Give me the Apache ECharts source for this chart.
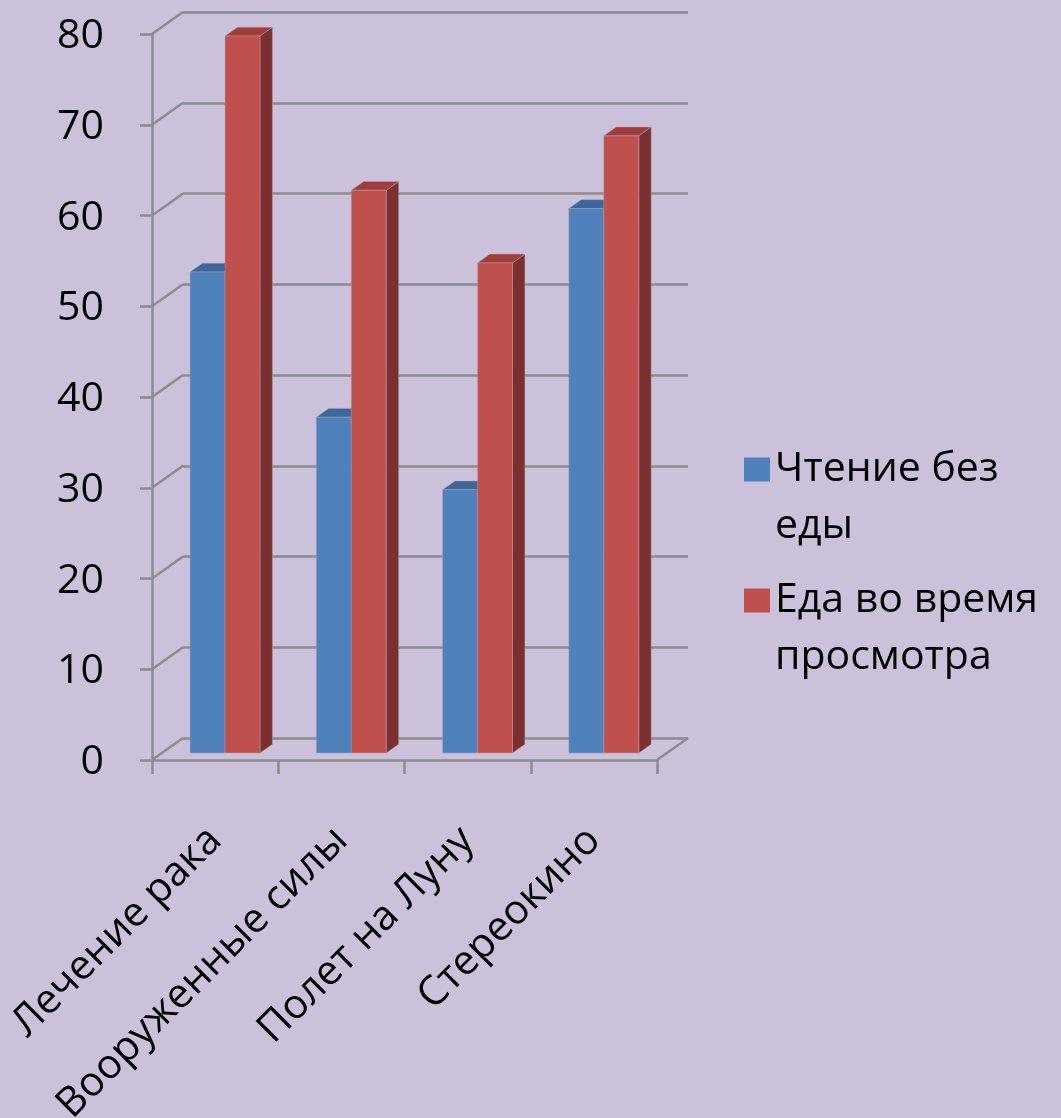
<!DOCTYPE html>
<html>
<head>
<meta charset="utf-8">
<script src="https://cdn.jsdelivr.net/npm/echarts@6/dist/echarts.min.js"></script>
<style>
html,body{margin:0;padding:0;background:#CCC1DA;}
#chart{width:1061px;height:1118px;}
</style>
</head>
<body>
<div id="chart"></div>
<script>
// ---- data ----
const categories = ['Лечение рака', 'Вооруженные силы', 'Полет на Луну', 'Стереокино'];
const seriesNames = ['Чтение без еды', 'Еда во время просмотра'];
const legendLabels = ['Чтение без\nеды', 'Еда во время\nпросмотра'];
const readingNoFood = [53, 37, 29, 60];
const eatingWhileWatching = [79, 62, 54, 68];
const yTicks = [0, 10, 20, 30, 40, 50, 60, 70, 80];

// ---- styling / 3D geometry ----
const FONT = '"Open Sans", "Noto Sans", sans-serif';
const FS = 41;
const DX = 31, DY = -22;      // depth vector of the chart box
const F0 = 0.32, DEPTH = 0.4; // bar front position and bar depth (fractions of DX/DY)
const BAR_FRAC = 0.277;       // bar width as fraction of category band
const GRID = '#8C8C8C';

const colors = [
  {front: '#4F81BD', top: '#3C6798', side: '#38608E'},
  {front: '#C0504D', top: '#A03E3B', side: '#7B2F2E'}
];

function barRenderer(idx) {
  return function (params, api) {
    const ci = api.value(0), v = api.value(1);
    const base = api.coord([ci, 0]);
    const top = api.coord([ci, v]);
    const bw = api.size([1, 0])[0];
    const w = bw * BAR_FRAC;
    const x0 = base[0] + (idx - 1) * w + F0 * DX;
    const x1 = x0 + w;
    const yb = base[1] + F0 * DY;
    const yt = top[1] + F0 * DY;
    const dx = DEPTH * DX, dy = DEPTH * DY;
    const c = colors[idx];
    const stroke = {stroke: 'rgba(170,160,180,0.6)', lineWidth: 0.8};
    return {
      type: 'group',
      children: [
        {type: 'polygon', shape: {points: [[x1, yt], [x1 + dx, yt + dy], [x1 + dx, yb + dy], [x1, yb]]},
          style: Object.assign({fill: c.side}, stroke)},
        {type: 'polygon', shape: {points: [[x0, yt], [x0 + dx, yt + dy], [x1 + dx, yt + dy], [x1, yt]]},
          style: Object.assign({fill: c.top}, stroke)},
        {type: 'rect', shape: {x: x0, y: yt, width: w, height: yb - yt},
          style: Object.assign({fill: c.front}, stroke)}
      ]
    };
  };
}

function diagRenderer(params, api) {
  const v = api.value(1);
  const cs = params.coordSys;
  const y = api.coord([0, v])[1];
  const children = [{
    type: 'line', shape: {x1: cs.x, y1: y, x2: cs.x + DX, y2: y + DY},
    style: {stroke: GRID, lineWidth: 2.5}
  }];
  if (v === 0) {
    children.push({
      type: 'line', shape: {x1: cs.x + cs.width, y1: y, x2: cs.x + cs.width + DX, y2: y + DY},
      style: {stroke: GRID, lineWidth: 2.5}
    });
  }
  return {type: 'group', children: children};
}

const chart = echarts.init(document.getElementById('chart'));
const frontGrid = {left: 152, top: 34, right: 404, bottom: 358, containLabel: false, outerBoundsMode: 'none'};
const backGrid = {left: 152 + DX, top: 34 + DY, right: 404 - DX, bottom: 358 - DY, containLabel: false, outerBoundsMode: 'none'};

chart.setOption({
  backgroundColor: '#CCC1DA',
  animation: false,
  textStyle: {fontFamily: FONT},
  grid: [frontGrid, backGrid],
  xAxis: [
    {
      type: 'category', gridIndex: 0, data: categories,
      axisLine: {show: true, lineStyle: {color: GRID, width: 2.5}},
      axisTick: {show: true, length: 14, lineStyle: {color: GRID, width: 2.5}},
      axisLabel: {rotate: 45, fontSize: FS, color: '#000', margin: 74, padding: [39, 0, 0, 0], fontFamily: FONT, interval: 0, hideOverlap: false},
      splitLine: {show: false}
    },
    {
      type: 'category', gridIndex: 1, data: categories,
      axisLine: {show: false}, axisTick: {show: false}, axisLabel: {show: false}, splitLine: {show: false}
    }
  ],
  yAxis: [
    {
      type: 'value', gridIndex: 0, min: 0, max: 80, interval: 10,
      axisLine: {show: true, lineStyle: {color: GRID, width: 2.5}},
      axisTick: {show: true, length: 12, lineStyle: {color: GRID, width: 2.5}},
      axisLabel: {fontSize: FS, color: '#000', margin: 48, fontFamily: FONT,
        verticalAlign: 'top', lineHeight: 41, padding: [-18, 0, 0, 0]},
      splitLine: {show: false}
    },
    {
      type: 'value', gridIndex: 1, min: 0, max: 80, interval: 10,
      axisLine: {show: false}, axisTick: {show: false}, axisLabel: {show: false},
      splitLine: {show: true, lineStyle: {color: GRID, width: 2.5}}
    }
  ],
  legend: {
    orient: 'vertical',
    left: 744, top: 384,
    padding: 0,
    itemGap: -40,
    itemWidth: 26, itemHeight: 24,
    icon: 'rect',
    data: seriesNames,
    formatter: function (name) { return '\n' + legendLabels[seriesNames.indexOf(name)]; },
    textStyle: {fontSize: FS, color: '#000', lineHeight: 57, fontFamily: FONT}
  },
  series: [
    {
      type: 'custom', name: 'diag', xAxisIndex: 0, yAxisIndex: 0, silent: true,
      renderItem: diagRenderer,
      data: yTicks.map(function (t) { return [0, t]; }),
      z: 1
    },
    {
      type: 'custom', name: seriesNames[0], xAxisIndex: 0, yAxisIndex: 0,
      itemStyle: {color: colors[0].front},
      renderItem: barRenderer(0),
      data: readingNoFood.map(function (v, i) { return [i, v]; }),
      z: 3
    },
    {
      type: 'custom', name: seriesNames[1], xAxisIndex: 0, yAxisIndex: 0,
      itemStyle: {color: colors[1].front},
      renderItem: barRenderer(1),
      data: eatingWhileWatching.map(function (v, i) { return [i, v]; }),
      z: 4
    }
  ]
});
</script>
</body>
</html>
